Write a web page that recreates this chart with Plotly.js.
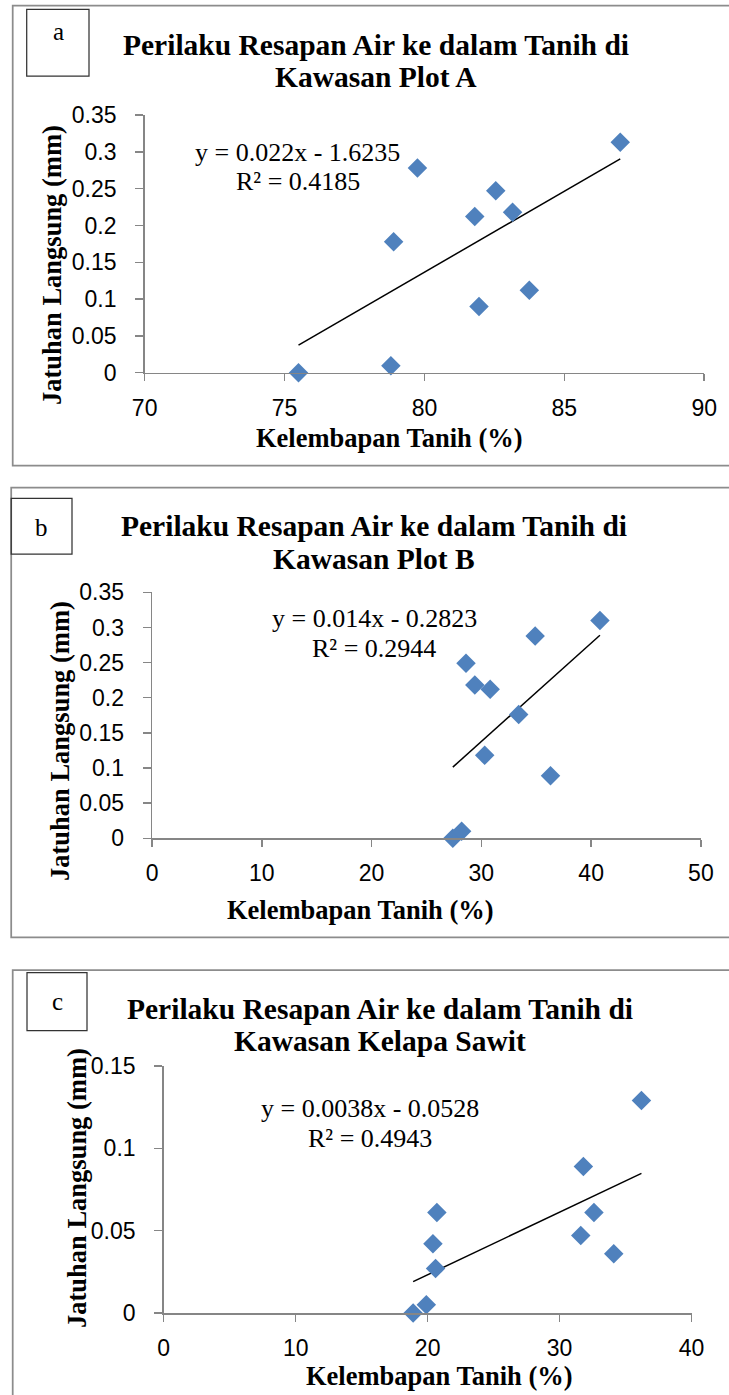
<!DOCTYPE html>
<html>
<head>
<meta charset="utf-8">
<script src="https://cdn.plot.ly/plotly-3.0.1.min.js"></script>
<style>html,body{margin:0;padding:0;background:#fff;}#chart{width:729px;height:1395px;}</style>
</head>
<body>
<div id="chart"></div>
<script>
// ---- Data ----
const panelLetters = ["a", "b", "c"];
const titleLine1 = "Perilaku Resapan Air ke dalam Tanih di";
const titleLine2 = ["Kawasan Plot A", "Kawasan Plot B", "Kawasan Kelapa Sawit"];
const xTitle = "Kelembapan Tanih (%)";
const yTitle = "Jatuhan Langsung (mm)";

const xA = [75.5, 78.8, 78.9, 79.75, 81.8, 81.95, 82.55, 83.15, 83.75, 87.0];
const yA = [0, 0.0095, 0.178, 0.278, 0.212, 0.09, 0.247, 0.218, 0.112, 0.313];
const xB = [27.4, 28.2, 28.6, 29.4, 30.8, 30.3, 33.4, 34.9, 36.3, 40.8];
const yB = [0, 0.01, 0.249, 0.218, 0.212, 0.118, 0.176, 0.288, 0.089, 0.31];
const xC = [18.9, 19.9, 20.6, 20.4, 20.7, 31.6, 31.8, 32.6, 34.1, 36.2];
const yC = [0, 0.005, 0.027, 0.042, 0.061, 0.047, 0.089, 0.061, 0.036, 0.129];

const slopes = [0.022, 0.014, 0.0038];
const intercepts = [-1.6235, -0.2823, -0.0528];
const eqTexts = ["y = 0.022x - 1.6235", "y = 0.014x - 0.2823", "y = 0.0038x - 0.0528"];
const r2Texts = ["R² = 0.4185", "R² = 0.2944", "R² = 0.4943"];

const xRanges = [[70, 90], [0, 50], [0, 40]];
const xDticks = [5, 10, 10];
const yRanges = [[0, 0.35], [0, 0.35], [0, 0.15]];
const yDticks = [0.05, 0.05, 0.05];

// ---- Layout geometry (pixels) ----
const W = 729, H = 1395;
const px = v => v / W;
const py = v => 1 - v / H;

const plotBoxes = [
  {x0: 144.65, x1: 704.2, yTop: 115.0, yBot: 372.7},
  {x0: 152.1, x1: 700.9, yTop: 592.3, yBot: 838.3},
  {x0: 163.7, x1: 691.6, yTop: 1066.0, yBot: 1313.0}
];
const outerBoxes = [
  {x0: 12.7, y0: 5.7, y1: 465.7},
  {x0: 11.2, y0: 487.7, y1: 937.3},
  {x0: 12.7, y0: 970.0, y1: 1410}
];
const letterBoxes = [
  {x0: 26.7, x1: 89, y0: 9.3, y1: 76, lx: 58, ly: 32},
  {x0: 11.2, x1: 72, y0: 498.3, y1: 554, lx: 41, ly: 527},
  {x0: 27, x1: 87, y0: 972.7, y1: 1030.7, lx: 57, ly: 1001}
];
const titlePos = [
  {x: 375.5, y1: 45, y2: 77},
  {x: 374.4, y1: 526, y2: 559},
  {x: 379.5, y1: 1009, y2: 1041}
];
const eqPos = [
  {x: 297.5, y1: 153, y2: 182},
  {x: 374.2, y1: 618, y2: 648},
  {x: 369.5, y1: 1108, y2: 1138}
];
const xTitlePos = [{x: 389.5, y: 438}, {x: 360, y: 910}, {x: 440, y: 1376}];
const yTitlePos = [{x: 52, y: 265}, {x: 60, y: 741}, {x: 77, y: 1188}];

const blue = "#4F81BD";
const axisGray = "#868686";
const serif = "Liberation Serif, Times New Roman, serif";
const sans = "Liberation Sans, Arial, sans-serif";

const datasets = [[xA, yA], [xB, yB], [xC, yC]];
const traces = [];
const layout = {
  width: W, height: H, autosize: false,
  margin: {l: 0, r: 0, t: 0, b: 0},
  paper_bgcolor: "#ffffff", plot_bgcolor: "rgba(0,0,0,0)",
  showlegend: false,
  shapes: [], annotations: []
};

datasets.forEach((d, i) => {
  const xs = d[0], ys = d[1];
  const sfx = i === 0 ? "" : String(i + 1);
  const xa = "x" + sfx, ya = "y" + sfx;
  // trendline over the data's x extent
  const xmin = Math.min(...xs), xmax = Math.max(...xs);
  traces.push({
    type: "scatter", mode: "lines", xaxis: xa, yaxis: ya,
    x: [xmin, xmax], y: [slopes[i] * xmin + intercepts[i], slopes[i] * xmax + intercepts[i]],
    line: {color: "#000000", width: 1.5}, hoverinfo: "skip", cliponaxis: false
  });
  traces.push({
    type: "scatter", mode: "markers", xaxis: xa, yaxis: ya,
    x: xs, y: ys, cliponaxis: false,
    marker: {symbol: "diamond", size: 15, color: blue, line: {width: 0}}
  });
  const b = plotBoxes[i];
  layout["xaxis" + sfx] = {
    domain: [px(b.x0), px(b.x1)], anchor: ya,
    range: xRanges[i], dtick: xDticks[i], tick0: 0,
    showgrid: false, zeroline: false, showline: true,
    linecolor: axisGray, linewidth: 1.5,
    ticks: "outside", ticklen: 7, tickwidth: 1.5, tickcolor: axisGray,
    ticklabelstandoff: 7,
    tickfont: {family: sans, size: 23, color: "#000"}
  };
  layout["yaxis" + sfx] = {
    domain: [py(b.yBot), py(b.yTop)], anchor: xa,
    range: yRanges[i], dtick: yDticks[i], tick0: 0,
    showgrid: false, zeroline: false, showline: true,
    linecolor: axisGray, linewidth: 1.5,
    ticks: "outside", ticklen: 8, tickwidth: 1.5, tickcolor: axisGray,
    ticklabelstandoff: 14,
    tickfont: {family: sans, size: 23, color: "#000"}
  };
  // outer panel border
  const o = outerBoxes[i];
  layout.shapes.push({type: "rect", xref: "paper", yref: "paper",
    x0: px(o.x0), x1: px(740), y0: py(o.y0), y1: py(o.y1),
    line: {color: "#8c8c8c", width: 1.75}, fillcolor: "rgba(0,0,0,0)"});
  // letter box
  const lb = letterBoxes[i];
  layout.shapes.push({type: "rect", xref: "paper", yref: "paper",
    x0: px(lb.x0), x1: px(lb.x1), y0: py(lb.y0), y1: py(lb.y1),
    line: {color: "#333333", width: 1.25}, fillcolor: "rgba(0,0,0,0)"});
  layout.annotations.push({xref: "paper", yref: "paper", x: px(lb.lx), y: py(lb.ly),
    xanchor: "center", yanchor: "middle", showarrow: false, text: panelLetters[i],
    font: {family: serif, size: 25, color: "#000"}});
  // titles
  const t = titlePos[i];
  layout.annotations.push({xref: "paper", yref: "paper", x: px(t.x), y: py(t.y1),
    xanchor: "center", yanchor: "middle", showarrow: false, text: "<b>" + titleLine1 + "</b>",
    font: {family: serif, size: 29.5, color: "#000"}});
  layout.annotations.push({xref: "paper", yref: "paper", x: px(t.x), y: py(t.y2),
    xanchor: "center", yanchor: "middle", showarrow: false, text: "<b>" + titleLine2[i] + "</b>",
    font: {family: serif, size: 29.5, color: "#000"}});
  // equation
  const e = eqPos[i];
  layout.annotations.push({xref: "paper", yref: "paper", x: px(e.x), y: py(e.y1),
    xanchor: "center", yanchor: "middle", showarrow: false, text: eqTexts[i],
    font: {family: serif, size: 26, color: "#000"}});
  layout.annotations.push({xref: "paper", yref: "paper", x: px(e.x), y: py(e.y2),
    xanchor: "center", yanchor: "middle", showarrow: false, text: r2Texts[i],
    font: {family: serif, size: 26, color: "#000"}});
  // axis titles
  const xt = xTitlePos[i];
  layout.annotations.push({xref: "paper", yref: "paper", x: px(xt.x), y: py(xt.y),
    xanchor: "center", yanchor: "middle", showarrow: false, text: "<b>" + xTitle + "</b>",
    font: {family: serif, size: 26.5, color: "#000"}});
  const yt = yTitlePos[i];
  layout.annotations.push({xref: "paper", yref: "paper", x: px(yt.x), y: py(yt.y),
    xanchor: "center", yanchor: "middle", showarrow: false, textangle: -90, text: "<b>" + yTitle + "</b>",
    font: {family: serif, size: 26.5, color: "#000"}});
});

Plotly.newPlot("chart", traces, layout, {staticPlot: true, displayModeBar: false});
</script>
</body>
</html>
